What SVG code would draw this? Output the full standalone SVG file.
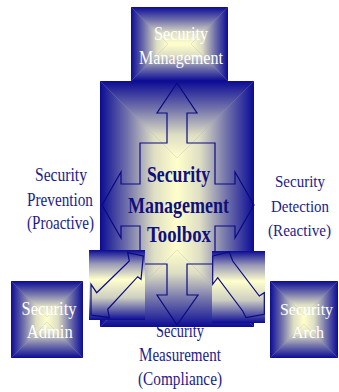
<svg xmlns="http://www.w3.org/2000/svg" width="339" height="392" viewBox="0 0 339 392">
<defs>
<linearGradient id="gT" x1="0" y1="0" x2="0" y2="1"><stop offset="0" stop-color="#0b0b95"/><stop offset="0.35" stop-color="#7070ab"/><stop offset="0.7" stop-color="#dedec4"/><stop offset="1" stop-color="#ffffcc"/></linearGradient>
<linearGradient id="gB" x1="0" y1="1" x2="0" y2="0"><stop offset="0" stop-color="#0b0b95"/><stop offset="0.35" stop-color="#7070ab"/><stop offset="0.7" stop-color="#dedec4"/><stop offset="1" stop-color="#ffffcc"/></linearGradient>
<linearGradient id="gL" x1="0" y1="0" x2="1" y2="0"><stop offset="0" stop-color="#0b0b95"/><stop offset="0.35" stop-color="#7070ab"/><stop offset="0.7" stop-color="#dedec4"/><stop offset="1" stop-color="#ffffcc"/></linearGradient>
<linearGradient id="gR" x1="1" y1="0" x2="0" y2="0"><stop offset="0" stop-color="#0b0b95"/><stop offset="0.35" stop-color="#7070ab"/><stop offset="0.7" stop-color="#dedec4"/><stop offset="1" stop-color="#ffffcc"/></linearGradient>
<linearGradient id="gV" x1="0" y1="0" x2="0" y2="1"><stop offset="0" stop-color="#0b0b95"/><stop offset="0.2" stop-color="#9a9ab8"/><stop offset="0.42" stop-color="#ffffcc"/><stop offset="0.68" stop-color="#cfcfc2"/><stop offset="1" stop-color="#0b0b95"/></linearGradient>
</defs>
<style>
.base{fill:#9a9ab8}
.t{fill:url(#gT)}.b{fill:url(#gB)}.l{fill:url(#gL)}.r{fill:url(#gR)}
.wt{font-family:"Liberation Serif","Times New Roman",serif;font-size:19px;fill:#ffffff;text-anchor:middle}
.lb{font-family:"Liberation Serif","Times New Roman",serif;font-size:18px;fill:#1c1c8c;text-anchor:middle}
.sm{font-size:17px}
.ct{font-family:"Liberation Serif","Times New Roman",serif;font-size:23px;font-weight:bold;fill:#10107a;text-anchor:middle}
.arr{fill:none;stroke:#0a0a80;stroke-width:1.2;stroke-linejoin:miter}
</style>

<g id="label-measurement">
<text class="lb" x="180" y="337" textLength="48" lengthAdjust="spacingAndGlyphs">Security</text>
<text class="lb" x="180" y="361" textLength="82" lengthAdjust="spacingAndGlyphs">Measurement</text>
<text class="lb" x="180" y="385" textLength="84" lengthAdjust="spacingAndGlyphs">(Compliance)</text>
</g>

<g id="toolbox">
<rect class="base" x="100" y="81" width="154" height="246"/>
<polygon class="t" points="100,81 254,81 177,158"/>
<polygon class="b" points="100,327 254,327 177,250"/>
<polygon class="l" points="100,81 177,158 177,250 100,327"/>
<polygon class="r" points="254,81 177,158 177,250 254,327"/>
</g>

<g id="security-management">
<rect class="base" x="131" y="7" width="97" height="74"/>
<polygon class="t" points="131,7 228,7 191,44 168,44"/>
<polygon class="b" points="131,81 228,81 191,44 168,44"/>
<polygon class="l" points="131,7 168,44 131,81"/>
<polygon class="r" points="228,7 191,44 228,81"/>
<text class="wt" x="181" y="40" textLength="54" lengthAdjust="spacingAndGlyphs">Security</text>
<text class="wt" x="181" y="64" textLength="84" lengthAdjust="spacingAndGlyphs">Management</text>
</g>

<g id="connectors">
<polygon class="arr" points="177,83 197,113 187,113 187,143 215,143 215,184 235,184 235,172 254,205 235,238 235,226 215,226 215,264 187,264 187,295 198,295 177,325 157,295 167,295 167,264 140,264 140,226 121,226 121,238 102,205 121,172 121,184 140,184 140,143 167,143 167,113 157,113"/>
</g>

<g id="toolbox-label">
<text class="ct" x="178.5" y="182" textLength="63" lengthAdjust="spacingAndGlyphs">Security</text>
<text class="ct" x="178.5" y="213" textLength="101" lengthAdjust="spacingAndGlyphs">Management</text>
<text class="ct" x="179" y="242" textLength="64" lengthAdjust="spacingAndGlyphs">Toolbox</text>
</g>

<g id="exchange-left">
<rect x="89" y="250" width="56" height="70" fill="url(#gV)"/>
<polygon class="arr" points="127.7,252.7 143.3,256 141,279.3 137.7,276.7 107.7,309.3 109.3,317.7 91,315 91,284.3 96.7,292.7 129.3,261"/>
</g>

<g id="exchange-right">
<rect x="212" y="251" width="53" height="72" fill="url(#gV)"/>
<polygon class="arr" points="212.7,256 229.3,252 232.7,261 259.3,296 264.3,292.7 264.3,314.3 246,317.7 242.7,311 217.7,277.7 212.7,284.3"/>
</g>

<g id="label-prevention">
<text class="lb" x="61" y="181" textLength="52" lengthAdjust="spacingAndGlyphs">Security</text>
<text class="lb" x="60" y="206" textLength="66" lengthAdjust="spacingAndGlyphs">Prevention</text>
<text class="lb" x="60.5" y="229" textLength="67" lengthAdjust="spacingAndGlyphs">(Proactive)</text>
</g>

<g id="label-detection">
<text class="lb sm" x="300" y="187" textLength="50" lengthAdjust="spacingAndGlyphs">Security</text>
<text class="lb sm" x="300" y="212" textLength="58" lengthAdjust="spacingAndGlyphs">Detection</text>
<text class="lb sm" x="299.5" y="236" textLength="63" lengthAdjust="spacingAndGlyphs">(Reactive)</text>
</g>

<g id="security-admin">
<rect class="base" x="11" y="281" width="72" height="77"/>
<polygon class="t" points="11,281 83,281 47,317"/>
<polygon class="b" points="11,358 83,358 47,322"/>
<polygon class="l" points="11,281 47,317 47,322 11,358"/>
<polygon class="r" points="83,281 47,317 47,322 83,358"/>
<text class="wt" x="49" y="315" textLength="55" lengthAdjust="spacingAndGlyphs">Security</text>
<text class="wt" x="49.7" y="338" textLength="46" lengthAdjust="spacingAndGlyphs">Admin</text>
</g>

<g id="security-arch">
<rect class="base" x="270" y="281" width="68" height="77"/>
<polygon class="t" points="270,281 338,281 304,315"/>
<polygon class="b" points="270,358 338,358 304,324"/>
<polygon class="l" points="270,281 304,315 304,324 270,358"/>
<polygon class="r" points="338,281 304,315 304,324 338,358"/>
<text class="wt sm" x="306.5" y="315" textLength="53" lengthAdjust="spacingAndGlyphs">Security</text>
<text class="wt sm" x="308" y="338" textLength="32" lengthAdjust="spacingAndGlyphs">Arch</text>
</g>
</svg>
